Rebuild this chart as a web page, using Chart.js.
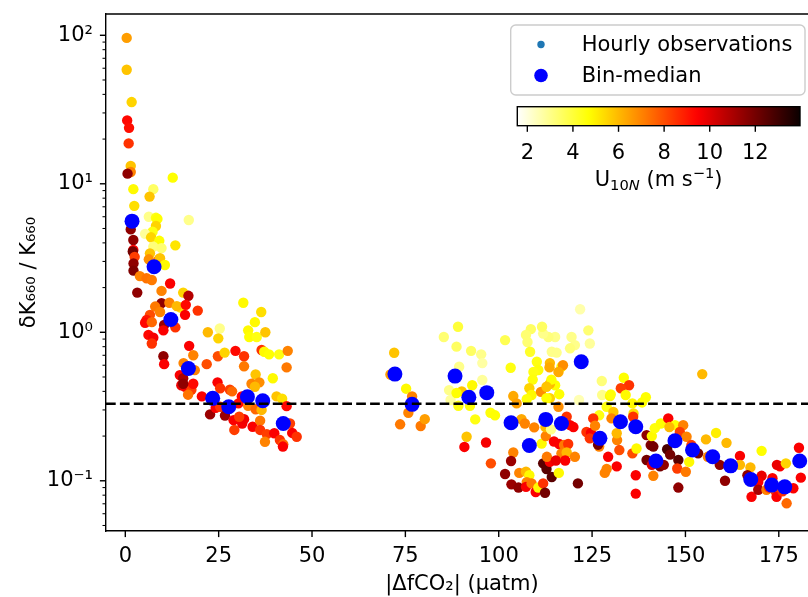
<!DOCTYPE html>
<html><head><meta charset="utf-8">
<script src="https://cdn.jsdelivr.net/npm/chart.js@4.4.0/dist/chart.umd.min.js"></script>
<style>html,body{margin:0;padding:0;overflow:hidden;background:#fff}#wrap{width:830px;height:597px}</style>
</head><body><div id="wrap"><canvas id="c" width="830" height="597"></canvas></div>
<script>
// ---- data ----
const hourlyX = [
 0.37,0.37,1.7,0.5,1.0,0.9,1.45,1.45,0.6,2.15,7.5,6.5,12.7,2.4,2.0,1.45,2.15,2.15,2.0,2.5,6.3,8.2,8.6,8.2,7.3,5.3,6.9,9.1,7.5,9.7,13.4,17.0,6.6,6.3,9.0,2.2,2.2,9.3,10.6,3.9,5.7,7.1,3.2,12.0,9.7,15.5,16.9,9.7,11.8,14.7,13.8,16.2,19.4,8.0,9.3,6.6,5.7,5.3,7.1,10.4,10.2,13.4,16.0,6.2,7.5,7.1,22.1,25.3,24.9,10.2,10.4,17.1,18.2,15.6,18.6,21.8,24.8,14.6,15.5,15.0,16.0,17.7,16.8,18.2,20.5,22.7,24.2,15.5,
 31.6,36.4,34.7,32.9,33.2,35.2,37.5,26.6,29.5,31.8,31.8,36.5,37.2,38.5,41.2,43.5,43.2,34.9,39.5,33.8,35.9,34.7,40.5,42.0,43.2,24.7,25.4,28.0,28.6,31.2,30.3,32.9,34.9,36.5,25.4,26.7,29.0,29.2,31.3,31.8,34.1,36.1,36.1,37.9,39.9,41.4,44.1,44.7,45.9,42.3,42.2,37.4,30.5,
 72.0,71.0,75.2,76.8,75.8,73.6,79.1,80.2,85.3,89.1,88.7,92.6,95.3,95.6,89.4,86.7,87.1,89.2,90.1,88.7,92.3,92.9,95.6,93.7,91.4,90.8,96.6,97.8,99.0,97.9,
 101.7,103.2,106.1,103.9,104.8,103.9,103.3,101.7,103.4,105.3,105.5,107.3,108.2,107.5,107.3,108.8,109.9,110.6,111.9,112.4,107.0,109.5,111.5,111.9,112.8,114.2,113.7,112.9,112.6,114.8,112.5,114.0,116.0,118.2,119.1,120.0,116.2,117.5,118.6,116.8,118.2,117.8,115.3,116.1,120.4,121.2,124.0,121.8,119.5,120.4,124.4,119.1,116.8,117.2,116.0,115.1,116.2,113.7,114.1,113.7,113.6,114.2,115.5,115.1,113.3,111.9,111.6,108.6,107.3,107.7,108.4,110.2,110.6,109.3,109.1,108.2,108.8,107.5,111.3,112.8,113.7,112.8,121.5,
 127.6,127.7,129.8,128.9,126.9,125.3,123.5,124.7,125.8,126.9,126.6,129.3,128.4,133.5,134.9,132.7,130.0,134.0,139.4,138.4,135.8,130.7,136.1,136.0,124.4,130.2,131.7,131.6,132.3,131.6,128.9,135.8,136.9,136.7,136.7,139.6,140.7,141.0,141.8,143.4,141.4,139.6,143.2,144.2,141.0,141.4,145.4,147.2,145.7,149.4,148.5,146.7,145.1,145.9,148.1,147.8,150.1,148.1,150.3,151.6,151.0,153.4,154.5,155.5,158.2,161.0,156.0,159.2,160.6,164.6,164.6,167.4,170.4,166.6,170.4,169.5,167.7,169.5,171.7,172.4,173.3,174.0,174.4,175.3,174.5,176.9,177.1,178.9,176.0,180.4,180.9
];
const hourlyY = [
 96,58.6,35.5,26.7,23.8,18.7,13.2,12.0,11.7,9.2,9.2,8.2,11.0,7.1,5.6,4.93,4.18,3.58,3.5,3.22,6.0,5.9,5.8,5.2,4.75,4.6,4.36,4.13,3.77,3.69,3.85,5.7,3.4,3.1,3.1,2.91,2.6,3.15,2.84,2.39,2.31,2.25,1.85,2.13,1.90,1.85,1.76,1.57,1.58,1.47,1.5,1.53,1.40,1.49,1.37,1.31,1.21,1.16,1.17,1.12,1.03,1.08,1.31,0.96,0.92,0.84,1.0,1.06,0.91,0.69,0.61,0.81,0.70,0.62,0.556,0.61,0.69,0.515,0.49,0.44,0.43,0.41,0.38,0.45,0.37,0.28,0.31,0.45,
 1.58,1.37,1.17,1.03,0.93,0.93,1.0,0.73,0.75,0.69,0.59,0.76,0.74,0.71,0.71,0.75,0.58,0.52,0.49,0.45,0.46,0.43,0.37,0.357,0.318,0.46,0.42,0.41,0.40,0.37,0.332,0.32,0.303,0.30,0.315,0.275,0.256,0.22,0.243,0.26,0.231,0.254,0.22,0.206,0.209,0.188,0.243,0.21,0.198,0.176,0.17,0.183,0.27,
 0.728,0.52,0.417,0.37,0.287,0.240,0.234,0.26,0.93,1.09,0.80,0.75,0.71,0.62,0.586,0.408,0.35,0.32,0.40,0.39,0.32,0.44,0.477,0.259,0.198,0.169,0.181,0.287,0.276,0.131,
 0.886,0.577,0.26,0.372,0.332,0.155,0.136,0.111,0.0946,0.090,0.113,0.115,0.109,0.098,0.091,0.096,0.084,0.09,0.096,0.083,0.243,0.229,0.178,0.131,0.12,0.106,0.134,0.145,0.2,0.184,0.23,0.222,0.315,0.27,0.237,0.23,0.177,0.174,0.177,0.153,0.155,0.137,0.137,0.113,0.145,0.096,1.03,1.43,0.93,0.82,0.84,0.78,0.586,0.60,0.54,0.44,0.383,0.45,0.48,0.62,0.58,0.74,0.73,0.93,0.93,0.98,1.09,1.05,0.96,0.86,0.74,0.633,0.557,0.54,0.48,0.42,0.378,0.354,0.397,0.43,0.36,0.36,0.35,
 0.47,0.378,0.372,0.315,0.276,0.263,0.213,0.21,0.235,0.17,0.175,0.145,0.113,0.494,0.44,0.42,0.382,0.378,0.365,0.337,0.332,0.291,0.284,0.27,0.193,0.263,0.188,0.209,0.161,0.125,0.12,0.153,0.165,0.109,0.082,0.203,0.174,0.2,0.226,0.243,0.17,0.138,0.125,0.128,0.128,0.108,0.263,0.237,0.23,0.237,0.213,0.188,0.163,0.15,0.138,0.121,0.115,0.09,0.198,0.174,0.134,0.153,0.523,0.19,0.21,0.18,0.145,0.128,0.1,0.147,0.128,0.123,0.159,0.109,0.108,0.098,0.078,0.087,0.087,0.09,0.104,0.086,0.078,0.125,0.128,0.131,0.0705,0.089,0.085,0.167,0.105
];
const hourlyWind = [
 6.5,5.8,5.5,9.3,9.2,8.5,5.8,7.0,11.5,4.8,3.5,5.8,4.7,5.3,9.5,11.5,11.5,9.5,12.0,8.3,3.0,4.5,4.7,5.5,4.5,2.8,5.5,4.7,3.2,3.3,5.2,3.0,5.8,6.8,7.3,11.5,11.8,5.8,4.8,7.0,7.3,7.2,11.5,9.5,7.0,5.5,10.8,11.5,7.0,5.3,6.0,9.3,8.5,7.2,7.0,8.0,9.0,9.3,7.5,11.3,9.5,8.5,9.5,9.3,9.6,8.5,6.0,3.0,5.5,11.5,9.5,9.5,7.0,7.0,7.0,8.0,8.0,9.5,11.0,9.8,9.5,8.3,7.3,9.3,9.5,11.3,9.5,11.5,
 4.8,5.3,4.8,4.8,4.7,4.5,5.8,5.5,9.3,8.5,7.2,8.5,4.8,4.7,4.5,7.0,7.2,5.8,4.8,7.0,6.8,6.0,5.8,5.3,9.3,9.5,8.5,8.3,7.5,9.4,9.3,7.0,7.5,6.0,8.5,11.3,9.5,8.3,9.6,9.7,9.5,7.2,8.5,8.3,9.5,8.5,8.3,9.5,8.5,7.5,9.5,7.0,8.3,
 5.8,6.5,4.8,7.0,7.0,7.2,7.2,6.5,3.3,4.0,3.5,3.5,3.0,2.7,3.0,3.0,2.8,4.5,5.8,4.7,4.6,4.8,2.8,4.5,5.8,9.5,9.6,4.6,4.7,8.0,
 3.7,4.5,6.3,6.3,6.5,7.0,11.3,11.5,11.3,11.5,7.0,6.0,4.8,7.0,9.5,7.2,9.5,4.8,8.5,12.0,7.0,7.0,4.8,12.5,12.5,12.5,9.5,7.2,7.0,9.5,6.0,3.0,6.8,8.5,9.5,9.5,9.5,7.2,8.5,7.0,6.0,9.5,9.8,4.8,7.0,12.0,3.3,2.6,3.0,3.0,2.8,3.2,4.5,6.8,6.3,4.7,4.7,6.0,4.7,6.0,6.3,3.0,3.0,3.0,3.2,3.0,3.5,3.5,3.3,3.3,4.2,4.5,4.6,4.5,4.6,5.5,4.8,4.6,6.8,5.8,5.5,4.7,2.5,
 3.2,3.0,4.8,4.5,4.5,8.5,8.5,9.5,7.0,7.0,12.0,9.5,7.0,4.7,8.5,8.3,4.6,4.8,4.7,4.7,4.8,5.8,5.3,8.5,8.5,7.0,7.0,6.0,8.0,9.5,7.0,8.0,4.8,9.5,9.5,11.5,11.8,4.8,4.6,4.7,12.0,12.0,12.0,11.5,10.0,7.0,9.5,4.7,6.0,7.0,8.3,8.5,12.8,12.0,12.5,8.3,7.2,11.5,7.0,8.3,4.8,12.0,6.0,6.0,5.0,6.0,7.0,11.5,11.5,9.5,6.0,6.0,4.7,11.5,9.8,9.5,9.5,11.0,7.0,8.5,9.5,8.0,9.5,9.5,9.8,5.5,7.5,9.5,8.5,9.5,9.5
];
const medianX = [1.8,7.7,12.2,16.9,23.4,27.7,32.7,36.8,42.3,72.2,76.8,88.3,92.0,96.8,103.3,108.2,112.6,116.8,122.1,127.1,132.6,136.7,142.1,147.2,151.9,157.3,162.1,167.5,173.1,176.6,180.6];
const medianY = [5.6,2.76,1.22,0.57,0.359,0.315,0.368,0.346,0.243,0.523,0.327,0.507,0.365,0.392,0.246,0.173,0.259,0.243,0.633,0.193,0.25,0.231,0.136,0.186,0.161,0.145,0.126,0.102,0.0935,0.091,0.136];
const THRESHOLD = 0.33;
const xTicks = [0,25,50,75,100,125,150,175];
const yTicks = [0.1,1,10,100];
const yTickLabels = ['10\u207B\u00B9','10\u2070','10\u00B9','10\u00B2'];
const windTicks = [2,4,6,8,10,12];
const WIND_MIN = 1.56, WIND_MAX = 13.96;
const legendLabels = ['Hourly observations','Bin-median'];

// hot_r colormap
function hotR(v){
  let t=(v-WIND_MIN)/(WIND_MAX-WIND_MIN); t=Math.min(1,Math.max(0,t));
  const s=1-t;
  const r = s<0.365079 ? 0.0416+(1-0.0416)*s/0.365079 : 1;
  const g = s<0.365079 ? 0 : (s<0.746032 ? (s-0.365079)/(0.746032-0.365079) : 1);
  const b = s<0.746032 ? 0 : (s-0.746032)/(1-0.746032);
  return 'rgb('+Math.round(r*255)+','+Math.round(g*255)+','+Math.round(b*255)+')';
}
const FONT='"DejaVu Sans"';
Chart.defaults.font.family='DejaVu Sans';

function drawRich(ctx, parts, cx, baseY){
  let total=0;
  parts.forEach(p=>{ctx.font=(p.italic?'italic ':'')+p.size+'px '+FONT; p.w=ctx.measureText(p.t).width; total+=p.w;});
  let xx=cx-total/2;
  ctx.textAlign='left'; ctx.textBaseline='alphabetic';
  parts.forEach(p=>{ctx.font=(p.italic?'italic ':'')+p.size+'px '+FONT; ctx.fillText(p.t,xx,baseY+(p.dy||0)); xx+=p.w;});
}

const decor = {
  id:'decor',
  afterDatasetsDraw(chart){
    const {ctx, chartArea:a, scales:{y}} = chart;
    const py=y.getPixelForValue(THRESHOLD);
    ctx.save();
    ctx.beginPath(); ctx.rect(a.left,a.top,a.right-a.left,a.bottom-a.top); ctx.clip();
    ctx.setLineDash([9.7,4.2]); ctx.lineWidth=2.6; ctx.strokeStyle='#000'; ctx.lineCap='butt';
    ctx.beginPath(); ctx.moveTo(a.left,py); ctx.lineTo(a.right,py); ctx.stroke();
    ctx.restore();
  },
  afterDraw(chart){
    const {ctx, chartArea:a, scales:{x,y}} = chart;
    ctx.save();
    ctx.strokeStyle='#000'; ctx.lineCap='butt'; ctx.lineWidth=1.4;
    ctx.beginPath(); ctx.moveTo(a.left-0.7,a.top); ctx.lineTo(a.right+0.7,a.top);
    ctx.moveTo(a.right,a.top); ctx.lineTo(a.right,a.bottom); ctx.stroke();
    xTicks.forEach(v=>{const p=x.getPixelForValue(v); ctx.beginPath(); ctx.moveTo(p,a.bottom); ctx.lineTo(p,a.bottom+6.1); ctx.stroke();});
    yTicks.forEach(v=>{const p=y.getPixelForValue(v); ctx.beginPath(); ctx.moveTo(a.left-6.1,p); ctx.lineTo(a.left,p); ctx.stroke();});
    ctx.lineWidth=1.05;
    for(let e=-2;e<=2;e++) for(let m=2;m<=9;m++){
      const v=m*Math.pow(10,e); if(v<y.min||v>y.max) continue;
      const p=y.getPixelForValue(v); ctx.beginPath(); ctx.moveTo(a.left-3.5,p); ctx.lineTo(a.left,p); ctx.stroke();
    }
    // legend
    ctx.beginPath(); ctx.roundRect(510.7,25,294.3,70,5);
    ctx.fillStyle='rgba(255,255,255,0.8)'; ctx.fill();
    ctx.strokeStyle='#cccccc'; ctx.lineWidth=1.4; ctx.stroke();
    ctx.fillStyle='#1f77b4'; ctx.beginPath(); ctx.arc(541,44.5,3.7,0,Math.PI*2); ctx.fill();
    ctx.fillStyle='#0000ff'; ctx.beginPath(); ctx.arc(541,75.5,6.8,0,Math.PI*2); ctx.fill();
    ctx.fillStyle='#000'; ctx.font='21px '+FONT; ctx.textAlign='left'; ctx.textBaseline='alphabetic';
    ctx.fillText(legendLabels[0],581.7,50.8);
    ctx.fillText(legendLabels[1],581.7,81.8);
    // colorbar
    const cb={l:517.3,r:800,t:106.7,b:125.7};
    const g=ctx.createLinearGradient(cb.l,0,cb.r,0);
    for(let i=0;i<=64;i++){const t=i/64; g.addColorStop(t,hotR(WIND_MIN+t*(WIND_MAX-WIND_MIN)));}
    ctx.fillStyle=g; ctx.fillRect(cb.l,cb.t,cb.r-cb.l,cb.b-cb.t);
    ctx.strokeStyle='#000'; ctx.lineWidth=1.4; ctx.strokeRect(cb.l,cb.t,cb.r-cb.l,cb.b-cb.t);
    ctx.fillStyle='#000'; ctx.font='21px '+FONT; ctx.textAlign='center'; ctx.textBaseline='alphabetic';
    windTicks.forEach(v=>{
      const p=cb.l+(v-WIND_MIN)/(WIND_MAX-WIND_MIN)*(cb.r-cb.l);
      ctx.beginPath(); ctx.moveTo(p,cb.b); ctx.lineTo(p,cb.b+6.1); ctx.stroke();
      ctx.fillText(String(v),p,158.5);
    });
    drawRich(ctx,[
      {t:'U',size:21},{t:'10',size:14.7,dy:4.5},{t:'N',size:14.7,dy:4.5,italic:true},
      {t:' (m s',size:21},{t:'\u22121',size:14.7,dy:-8},{t:')',size:21}
    ],(cb.l+cb.r)/2,185.5);
    ctx.restore();
  }
};

new Chart(document.getElementById('c').getContext('2d'),{
  type:'scatter',
  data:{datasets:[
    {label:legendLabels[0], order:2, data:hourlyX.map((v,i)=>({x:v,y:hourlyY[i]})),
     backgroundColor:hourlyWind.map(hotR), pointRadius:5.2, pointHoverRadius:5.2, pointBorderWidth:0, borderWidth:0},
    {label:legendLabels[1], order:1, data:medianX.map((v,i)=>({x:v,y:medianY[i]})),
     backgroundColor:'#0000ff', pointRadius:7.5, pointHoverRadius:7.5, pointBorderWidth:0, borderWidth:0}
  ]},
  options:{
    responsive:false, animation:false, events:[],
    layout:{padding:{top:14,right:12,left:0,bottom:0}},
    plugins:{legend:{display:false},tooltip:{enabled:false}},
    scales:{
      x:{type:'linear',min:-5.17,max:185.5,
        afterBuildTicks:s=>{s.ticks=xTicks.map(v=>({value:v}));},
        afterFit:s=>{s.height=66;s.paddingLeft=0;s.paddingRight=0;},
        grid:{display:false,drawTicks:true,tickLength:6},
        border:{display:true,color:'#000',width:1.4},
        ticks:{color:'#000',font:{size:21},padding:7,maxRotation:0,autoSkip:false,callback:v=>String(v)},
        title:{display:true,text:'|\u0394fCO\u2082| (\u03BCatm)',color:'#000',font:{size:21},padding:{top:1.4,bottom:0}}
      },
      y:{type:'logarithmic',min:0.0459,max:139.1,
        afterBuildTicks:s=>{s.ticks=yTicks.map(v=>({value:v}));},
        afterFit:s=>{s.width=106;s.paddingTop=0;s.paddingBottom=0;},
        grid:{display:false,drawTicks:true,tickLength:6},
        border:{display:true,color:'#000',width:1.4},
        ticks:{color:'#000',font:{size:21},padding:7,autoSkip:false,callback:(v,i)=>yTickLabels[i]},
        title:{display:true,text:'\u03B4K\u2086\u2086\u2080 / K\u2086\u2086\u2080',color:'#000',font:{size:21},padding:{top:17.4,bottom:0}}
      }
    }
  },
  plugins:[decor]
});
</script></body></html>
